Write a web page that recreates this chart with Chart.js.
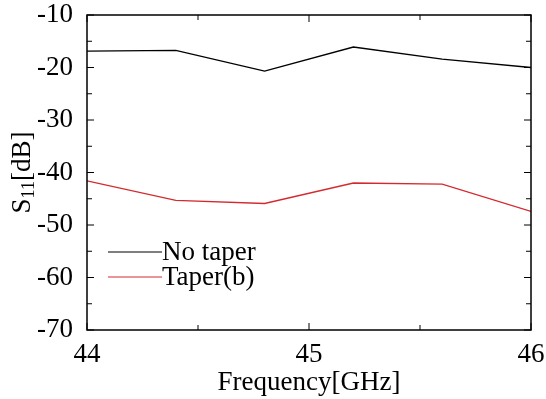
<!DOCTYPE html>
<html>
<head>
<meta charset="utf-8">
<script src="https://cdn.jsdelivr.net/npm/chart.js@4"></script>
<style>
    html, body { margin: 0; padding: 0; background: #fff; }
    #box { width: 546px; height: 399px; }
</style>
</head>
<body>
<div id="box"><canvas id="s11Chart"></canvas></div>
<script>
// Chart data
const freqs = [44.0, 44.4, 44.8, 45.2, 45.6, 46.0];
const noTaper = [-16.9, -16.75, -20.7, -16.1, -18.4, -20.0];
const taperB = [-41.6, -45.3, -45.9, -42.0, -42.2, -47.4];
const seriesNames = ['No taper', 'Taper(b)'];
const seriesColors = ['#000000', '#d42a2f'];
const FONT = '"Liberation Serif", "Times New Roman", serif';

// Frame, inward ticks, legend and y title
const framePlugin = {
    id: 'frame',
    afterDraw(chart) {
        const c = chart.ctx;
        const a = chart.chartArea;
        const xs = chart.scales.x;
        const ys = chart.scales.y;
        c.save();
        c.strokeStyle = '#000';
        c.lineWidth = 1.5;
        c.strokeRect(a.left, a.top, a.right - a.left, a.bottom - a.top);

        c.lineWidth = 1;
        c.beginPath();
        xs.ticks.forEach(t => {
            const px = xs.getPixelForValue(t.value);
            const len = Number.isInteger(t.value) ? 7 : 5;
            c.moveTo(px, a.bottom); c.lineTo(px, a.bottom - len);
            c.moveTo(px, a.top); c.lineTo(px, a.top + len);
        });
        ys.ticks.forEach(t => {
            const py = ys.getPixelForValue(t.value);
            const len = t.value % 10 === 0 ? 7 : 5;
            c.moveTo(a.left, py); c.lineTo(a.left + len, py);
            c.moveTo(a.right, py); c.lineTo(a.right - len, py);
        });
        c.stroke();

        // legend
        c.font = '27px ' + FONT;
        c.textBaseline = 'middle';
        c.textAlign = 'left';
        seriesNames.forEach((name, i) => {
            const y = 252 + i * 25;
            c.strokeStyle = seriesColors[i];
            c.lineWidth = 1.2;
            c.beginPath();
            c.moveTo(108, y); c.lineTo(162, y);
            c.stroke();
            c.fillStyle = '#000';
            c.fillText(name, 162, y + 1);
        });

        // y axis title with subscript
        c.translate(23, (a.top + a.bottom) / 2);
        c.rotate(-Math.PI / 2);
        c.fillStyle = '#000';
        c.textBaseline = 'middle';
        const big = '27px ' + FONT;
        const small = '18px ' + FONT;
        c.font = big; const w1 = c.measureText('S').width;
        c.font = small; const w2 = c.measureText('11').width;
        c.font = big; const w3 = c.measureText('[dB]').width;
        let x0 = -(w1 + w2 + w3) / 2;
        c.font = big; c.fillText('S', x0, 0);
        c.font = small; c.fillText('11', x0 + w1, 6);
        c.font = big; c.fillText('[dB]', x0 + w1 + w2, 0);
        c.restore();
    }
};

new Chart(document.getElementById('s11Chart'), {
    type: 'line',
    data: {
        datasets: [
            {
                label: seriesNames[0],
                data: freqs.map((f, i) => ({ x: f, y: noTaper[i] })),
                borderColor: seriesColors[0],
                borderWidth: 1.3,
                pointRadius: 0,
                tension: 0
            },
            {
                label: seriesNames[1],
                data: freqs.map((f, i) => ({ x: f, y: taperB[i] })),
                borderColor: seriesColors[1],
                borderWidth: 1.3,
                pointRadius: 0,
                tension: 0
            }
        ]
    },
    options: {
        responsive: true,
        maintainAspectRatio: false,
        animation: false,
        layout: { padding: { top: 15, right: 15, left: 0, bottom: 0 } },
        plugins: {
            legend: { display: false },
            tooltip: { enabled: false }
        },
        scales: {
            x: {
                type: 'linear',
                min: 44,
                max: 46,
                grid: { display: false },
                border: { display: false },
                ticks: {
                    stepSize: 0.5,
                    autoSkip: false,
                    maxRotation: 0,
                    padding: 1,
                    color: '#000',
                    font: { family: FONT, size: 27 },
                    callback: (v) => Number.isInteger(v) ? String(v) : ''
                },
                title: {
                    display: true,
                    text: 'Frequency[GHz]',
                    color: '#000',
                    padding: { top: 0, bottom: 0 },
                    font: { family: FONT, size: 27 }
                },
                afterFit: (scale) => {
                    scale.height = 69;
                    scale.paddingLeft = 0;
                    scale.paddingRight = 0;
                }
            },
            y: {
                min: -70,
                max: -10,
                grid: { display: false },
                border: { display: false },
                ticks: {
                    stepSize: 5,
                    autoSkip: false,
                    padding: 6,
                    color: '#000',
                    font: { family: FONT, size: 27 },
                    callback: (v) => v % 10 === 0 ? String(v) : ''
                },
                afterFit: (scale) => {
                    scale.width = 87;
                    scale.paddingTop = 0;
                    scale.paddingBottom = 0;
                }
            }
        }
    },
    plugins: [framePlugin]
});
</script>
</body>
</html>
